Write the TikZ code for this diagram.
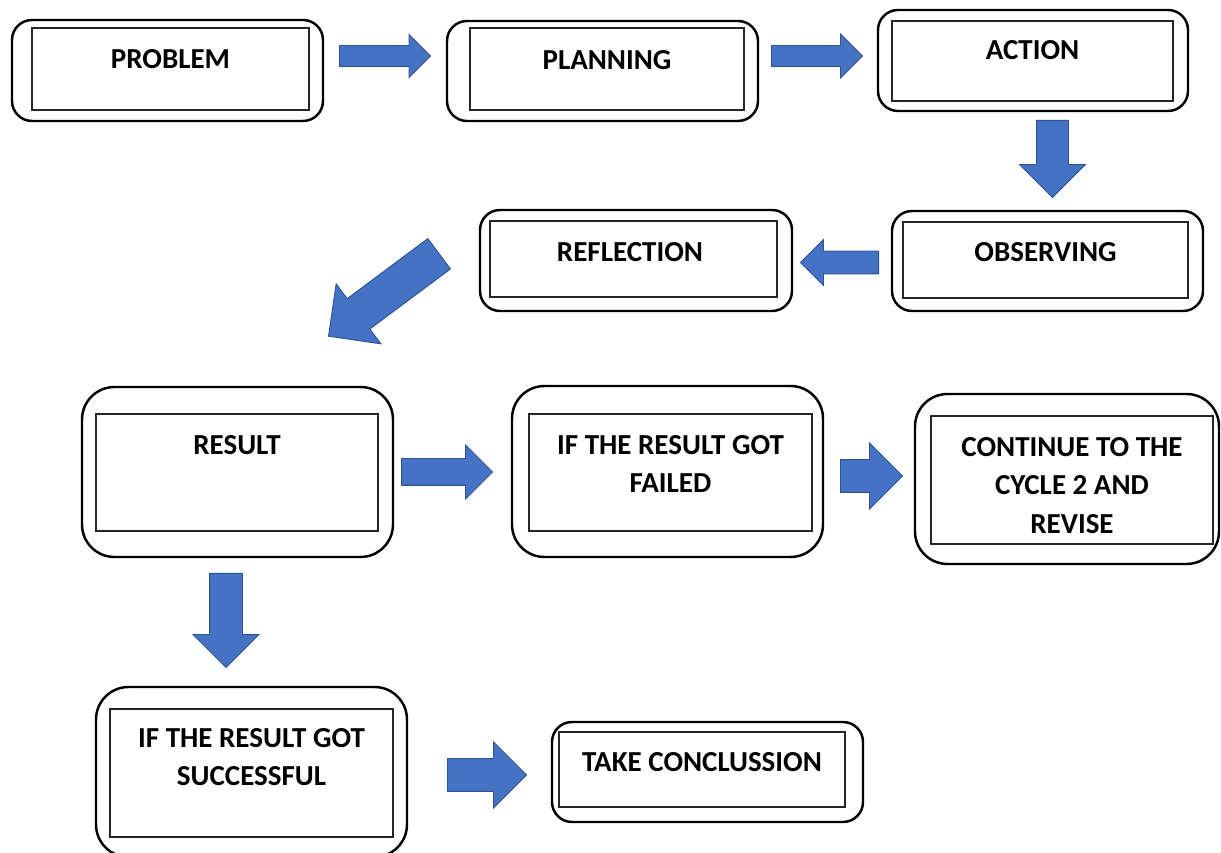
\documentclass[tikz,border=0pt]{standalone}
\usepackage{fontspec}
\setmainfont{Carlito}
\usetikzlibrary{shapes.arrows}
\definecolor{arrowblue}{HTML}{4472C4}
\definecolor{arrowedge}{HTML}{2F528F}

\begin{document}
\begin{tikzpicture}[
    outerbox/.style = {draw, line width=1.4pt, rounded corners=0.4cm, inner sep=0pt},
    tallbox/.style = {outerbox, rounded corners=0.65cm},
    innerbox/.style = {draw=black!85, line width=0.7pt, inner sep=0pt},
    txt/.style = {font=\bfseries\fontsize{16.5}{21.9}\selectfont, align=center,
                  anchor=north, inner sep=0pt},
    blockarrow/.style = {single arrow, draw=arrowedge, fill=arrowblue,
                         line width=0.5pt, inner xsep=0pt, anchor=tail}
    ]
    \useasboundingbox (0,0) rectangle (24.42,17.06);

    \node[outerbox, minimum width=6.22cm, minimum height=2.02cm] (problem) at (3.35,15.65) {};
    \node[innerbox, minimum width=5.54cm, minimum height=1.64cm] (problem-in) at (3.41,15.68) {};
    \node[txt] (problem-txt) at (3.41,16.07) {PROBLEM};

    \node[outerbox, minimum width=6.22cm, minimum height=2.0cm] (planning) at (12.05,15.64) {};
    \node[innerbox, minimum width=5.48cm, minimum height=1.64cm] (planning-in) at (12.14,15.68) {};
    \node[txt] (planning-txt) at (12.14,16.06) {PLANNING};

    \node[outerbox, minimum width=6.2cm, minimum height=2.02cm] (action) at (20.66,15.85) {};
    \node[innerbox, minimum width=5.62cm, minimum height=1.6cm] (action-in) at (20.65,15.84) {};
    \node[txt] (action-txt) at (20.65,16.26) {ACTION};

    \node[outerbox, minimum width=6.22cm, minimum height=2.0cm] (observing) at (20.95,11.84) {};
    \node[innerbox, minimum width=5.7cm, minimum height=1.52cm] (observing-in) at (20.91,11.86) {};
    \node[txt] (observing-txt) at (20.91,12.22) {OBSERVING};

    \node[outerbox, minimum width=6.24cm, minimum height=2.02cm] (reflection) at (12.72,11.85) {};
    \node[innerbox, minimum width=5.74cm, minimum height=1.52cm] (reflection-in) at (12.67,11.88) {};
    \node[txt] (reflection-txt) at (12.6,12.22) {REFLECTION};

    \node[tallbox, minimum width=6.22cm, minimum height=3.4cm] (result) at (4.75,7.62) {};
    \node[innerbox, minimum width=5.64cm, minimum height=2.34cm] (result-in) at (4.74,7.61) {};
    \node[txt] (result-txt) at (4.74,8.36) {RESULT};

    \node[tallbox, minimum width=6.22cm, minimum height=3.42cm] (failed) at (13.35,7.63) {};
    \node[innerbox, minimum width=5.66cm, minimum height=2.34cm] (failed-in) at (13.41,7.61) {};
    \node[txt] (failed-txt) at (13.41,8.36) {IF THE RESULT GOT\\FAILED};

    \node[tallbox, minimum width=6.08cm, minimum height=3.4cm] (cycle) at (21.34,7.48) {};
    \node[innerbox, minimum width=5.64cm, minimum height=2.56cm] (cycle-in) at (21.44,7.46) {};
    \node[txt] (cycle-txt) at (21.44,8.32) {CONTINUE TO THE\\CYCLE 2 AND\\REVISE};

    \node[tallbox, minimum width=6.22cm, minimum height=3.4cm] (success) at (5.03,1.62) {};
    \node[innerbox, minimum width=5.66cm, minimum height=2.56cm] (success-in) at (5.03,1.6) {};
    \node[txt] (success-txt) at (5.03,2.5) {IF THE RESULT GOT\\SUCCESSFUL};

    \node[outerbox, minimum width=6.22cm, minimum height=2.0cm] (conclusion) at (14.15,1.62) {};
    \node[innerbox, minimum width=5.72cm, minimum height=1.5cm] (conclusion-in) at (14.04,1.67) {};
    \node[txt] (conclusion-txt) at (14.04,2.02) {TAKE CONCLUSSION};

    \node[blockarrow, minimum height=1.82cm, minimum width=0.84cm, inner ysep=0.2cm,
          single arrow head extend=0.22cm] (ar1) at (6.78,15.94) {};
    \node[blockarrow, minimum height=1.82cm, minimum width=0.86cm, inner ysep=0.2cm,
          single arrow head extend=0.23cm] (ar2) at (15.42,15.94) {};
    \node[blockarrow, minimum height=1.54cm, minimum width=1.3cm, inner ysep=0.31cm,
          single arrow head extend=0.34cm, rotate=-90] (ar3) at (21.05,14.66) {};
    \node[blockarrow, minimum height=1.56cm, minimum width=0.9cm, inner ysep=0.22cm,
          single arrow head extend=0.23cm, rotate=180] (ar4) at (17.58,11.81) {};
    \node[blockarrow, minimum height=2.76cm, minimum width=1.48cm, inner ysep=0.37cm,
          single arrow head extend=0.37cm, rotate=216.7] (ar5) at (8.79,11.99) {};
    \node[blockarrow, minimum height=1.82cm, minimum width=1.06cm, inner ysep=0.26cm,
          single arrow head extend=0.27cm] (ar6) at (8.02,7.62) {};
    \node[blockarrow, minimum height=1.24cm, minimum width=1.3cm, inner ysep=0.32cm,
          single arrow head extend=0.33cm] (ar7) at (16.8,7.54) {};
    \node[blockarrow, minimum height=1.88cm, minimum width=1.3cm, inner ysep=0.32cm,
          single arrow head extend=0.33cm, rotate=-90] (ar8) at (4.52,5.6) {};
    \node[blockarrow, minimum height=1.58cm, minimum width=1.3cm, inner ysep=0.32cm,
          single arrow head extend=0.33cm] (ar9) at (8.94,1.56) {};
\end{tikzpicture}
\end{document}
